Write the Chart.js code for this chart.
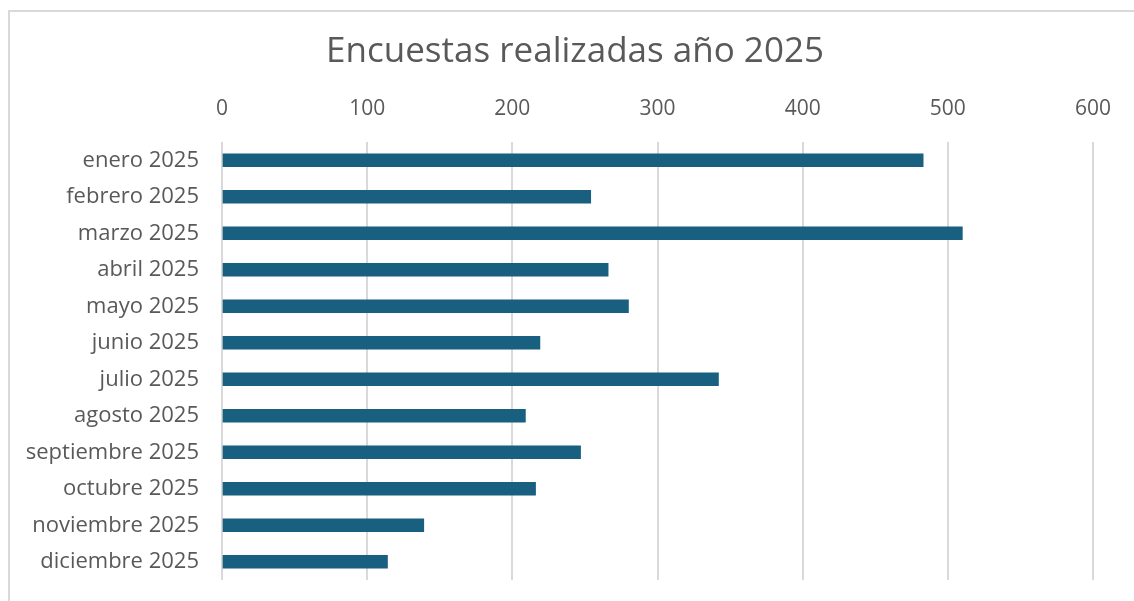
<!DOCTYPE html>
<html><head><meta charset="utf-8">
<script src="https://cdn.jsdelivr.net/npm/chart.js@4/dist/chart.umd.min.js"></script>
<style>html,body{margin:0;padding:0;background:#fff;}#wrap{width:1134px;height:601px;position:relative;}</style>
</head><body><div id="wrap"><canvas id="c" width="1134" height="601"></canvas></div>
<script>
const categories = ["enero 2025","febrero 2025","marzo 2025","abril 2025","mayo 2025","junio 2025","julio 2025","agosto 2025","septiembre 2025","octubre 2025","noviembre 2025","diciembre 2025"];
const encuestas = [483, 254, 510, 266, 280, 219, 342, 209, 247, 216, 139, 114];
const titleText = "Encuestas realizadas año 2025";
const FONT = "'Open Sans', sans-serif";

const framePlugin = {
  id: 'frame',
  beforeDraw(chart) {
    const ctx = chart.ctx;
    ctx.save();
    ctx.fillStyle = '#fff';
    ctx.fillRect(0, 0, chart.width, chart.height);
    ctx.strokeStyle = '#d9d9d9';
    ctx.lineWidth = 2;
    ctx.strokeRect(9, 11, 1300, 800);
    ctx.restore();
  },
  afterDraw(chart) {
    const ctx = chart.ctx;
    ctx.save();
    ctx.fillStyle = '#595959';
    ctx.font = "35px " + FONT;
    ctx.textAlign = 'center';
    ctx.textBaseline = 'middle';
    ctx.fillText(titleText, 575, 52);
    ctx.restore();
  }
};

new Chart(document.getElementById('c'), {
  type: 'bar',
  data: {
    labels: categories,
    datasets: [{
      data: encuestas,
      backgroundColor: '#185f80',
      borderWidth: 0,
      barThickness: 13
    }]
  },
  plugins: [framePlugin],
  options: {
    indexAxis: 'y',
    responsive: false,
    animation: false,
    layout: { padding: { left: 0, right: 41, top: 81, bottom: 21 } },
    plugins: {
      legend: { display: false },
      tooltip: { enabled: false },
      title: { display: false }
    },
    scales: {
      x: {
        position: 'top',
        min: 0, max: 600,
        ticks: { stepSize: 100, color: '#595959', font: { family: FONT, size: 21 }, padding: 20 },
        grid: { color: '#d9d9d9', lineWidth: 2, drawTicks: false },
        border: { display: false },
        afterFit(scale) { scale.height = 142 - 81; scale.paddingLeft = 0; scale.paddingRight = 0; }
      },
      y: {
        ticks: { color: '#595959', font: { family: FONT, size: 22 }, padding: 23 },
        grid: { display: false, drawTicks: false },
        border: { display: false },
        afterFit(scale) { scale.width = 222; scale.paddingTop = 0; scale.paddingBottom = 0; }
      }
    }
  }
});
</script></body></html>
